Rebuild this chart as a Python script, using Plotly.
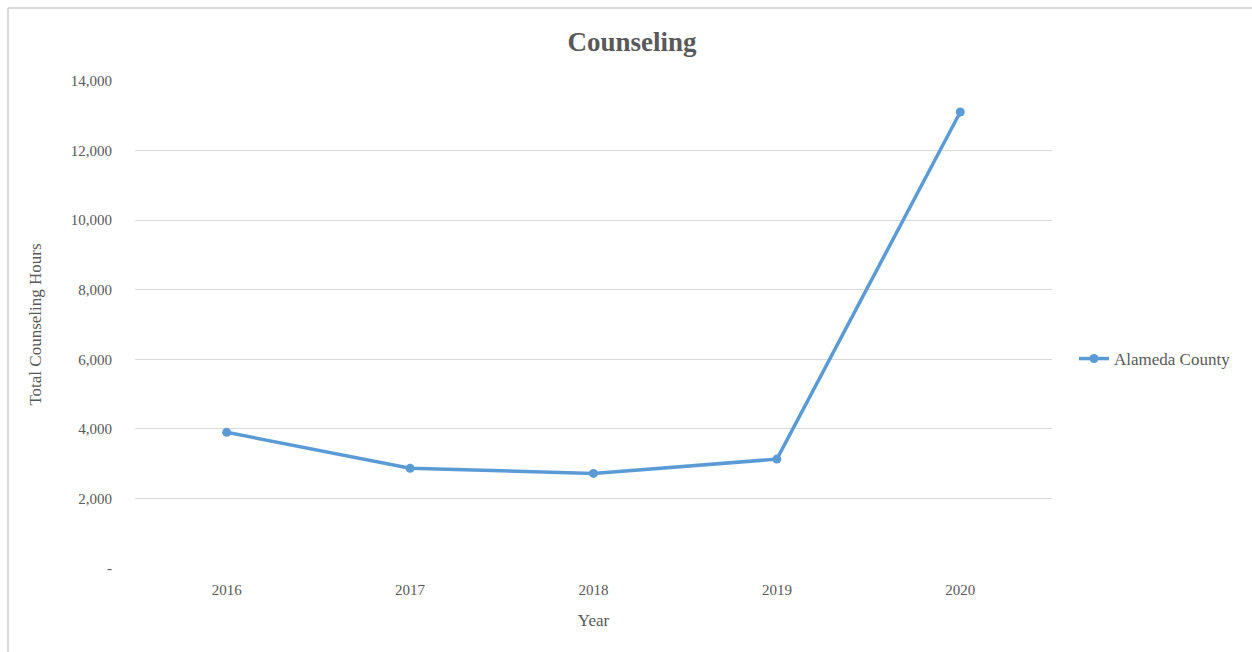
import plotly.graph_objects as go

years = ["2016", "2017", "2018", "2019", "2020"]
hours = [3900, 2865, 2720, 3130, 13110]
ytick_vals = [0, 2000, 4000, 6000, 8000, 10000, 12000, 14000]
ytick_text = ["-", "2,000", "4,000", "6,000", "8,000", "10,000", "12,000", "14,000"]

FONT = "Liberation Serif"
GRAY = "#595959"

fig = go.Figure()
fig.add_trace(go.Scatter(
    x=years, y=hours, mode="lines+markers", name="Alameda County",
    line=dict(color="#5b9bd5", width=3.5),
    marker=dict(color="#5b9bd5", size=9),
))

L, R, T, B = 135, 200, 81, 84
W, H = 1252, 652
pw, ph = W - L - R, H - T - B
bx = (8 - L) / pw
by = 1 + (T - 8) / ph

fig.update_layout(
    width=W, height=H,
    margin=dict(l=L, r=R, t=T, b=B),
    paper_bgcolor="white", plot_bgcolor="white",
    font=dict(family=FONT, color=GRAY, size=15),
    title=dict(text="<b>Counseling</b>", x=(632 - L) / pw, xref="paper", xanchor="center",
               y=1 - 42 / H, yanchor="middle", font=dict(size=27, color=GRAY, family=FONT)),
    xaxis=dict(type="category", range=[-0.5, 4.5], showgrid=False, showline=False,
               ticks="", ticklabelstandoff=11, tickfont=dict(size=15, color=GRAY),
               title=dict(text="Year", font=dict(size=17, color=GRAY), standoff=17)),
    yaxis=dict(range=[0, 14000], tickvals=ytick_vals, ticktext=ytick_text,
               showgrid=True, gridcolor="#d9d9d9", gridwidth=1, zeroline=False,
               showline=False, ticks="", ticklabelstandoff=22,
               tickfont=dict(size=15, color=GRAY),
               title=dict(text="Total Counseling Hours", font=dict(size=17, color=GRAY), standoff=24)),
    showlegend=True,
    legend=dict(x=(1074 - L) / pw, y=(568 - 359) / ph, xanchor="left", yanchor="middle",
                font=dict(size=17, color=GRAY, family=FONT), bgcolor="rgba(0,0,0,0)"),
    shapes=[
        dict(type="line", xref="paper", yref="paper", x0=bx, x1=bx, y0=-0.5, y1=by,
             line=dict(color="#d9d9d9", width=2)),
        dict(type="line", xref="paper", yref="paper", x0=bx, x1=1.5, y0=by, y1=by,
             line=dict(color="#d9d9d9", width=2)),
    ],
)

fig.write_html("out.html")
